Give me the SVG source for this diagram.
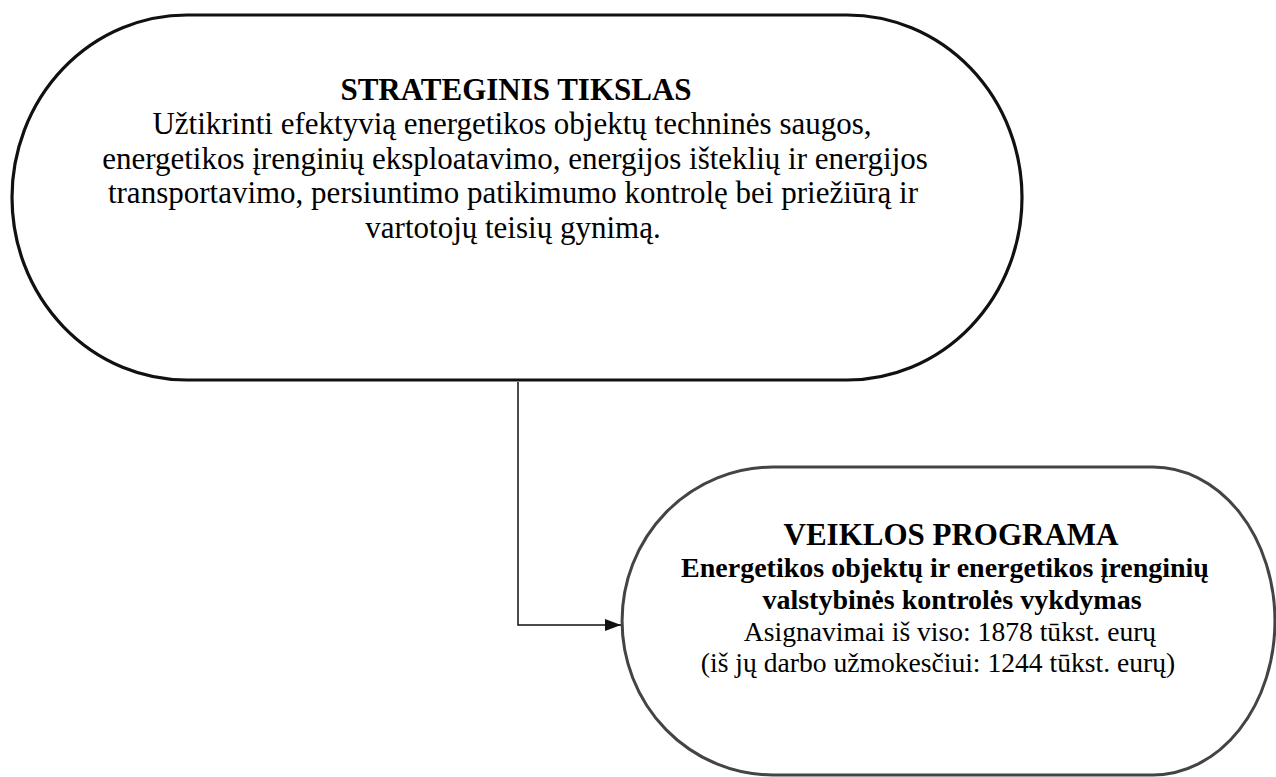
<svg xmlns="http://www.w3.org/2000/svg" width="1276" height="777" viewBox="0 0 1276 777">
<style>
.txt{font-family:"Liberation Serif","Times New Roman",serif;fill:#000;text-anchor:middle}
.t1{font-size:31px;font-weight:bold}
.b1{font-size:31px}
.t2{font-size:31px;font-weight:bold}
.b2b{font-size:28px;font-weight:bold}
.b2{font-size:27.6px}
.node1{fill:#fff;stroke:#111;stroke-width:3.2}
.node2{fill:#fff;stroke:#444;stroke-width:3}
.conn{fill:none;stroke:#111;stroke-width:1.5}
</style>
<defs>
<marker id="arr" markerWidth="16" markerHeight="12" refX="16" refY="6" orient="auto" markerUnits="userSpaceOnUse">
<path d="M0,0 L16,6 L0,12 Z" fill="#111"/>
</marker>
</defs>
<rect width="1276" height="777" fill="#fff"/>
<g id="node-strateginis">
<path class="node1" d="M187,15 H847 A175,182.5 0 0 1 847,380 H187 A175,182.5 0 0 1 187,15 Z"/>
<text class="txt t1" x="516" y="100">STRATEGINIS TIKSLAS</text>
<text class="txt b1" x="512" y="134">Užtikrinti efektyvią energetikos objektų techninės saugos,</text>
<text class="txt b1" x="515" y="168.5">energetikos įrenginių eksploatavimo, energijos išteklių ir energijos</text>
<text class="txt b1" x="513" y="203">transportavimo, persiuntimo patikimumo kontrolę bei priežiūrą ir</text>
<text class="txt b1" x="513" y="237.5">vartotojų teisių gynimą.</text>
</g>
<g id="node-veiklos">
<path class="node2" d="M773,467 H1153 A122,154 0 0 1 1153,775 H773 A151,154 0 0 1 773,467 Z"/>
<text class="txt t2" x="951" y="545">VEIKLOS PROGRAMA</text>
<text class="txt b2b" x="945" y="577">Energetikos objektų ir energetikos įrenginių</text>
<text class="txt b2b" x="952" y="609">valstybinės kontrolės vykdymas</text>
<text class="txt b2" x="950" y="641">Asignavimai iš viso: 1878 tūkst. eurų</text>
<text class="txt b2" x="938" y="672">(iš jų darbo užmokesčiui: 1244 tūkst. eurų)</text>
</g>
<g id="connectors">
<path class="conn" d="M518,382 V625 H621" marker-end="url(#arr)"/>
</g>
</svg>
